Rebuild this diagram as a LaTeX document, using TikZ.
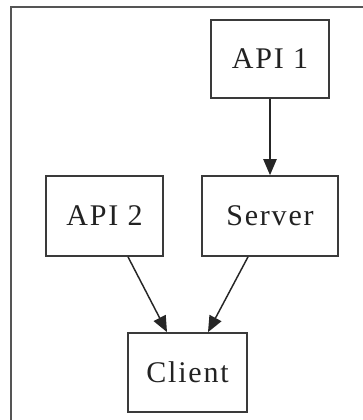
\documentclass[tikz,border=0pt]{standalone}
\usepackage{fontspec}
\setmainfont[LetterSpace=6]{Liberation Serif}
\usetikzlibrary{arrows.meta,calc}
\definecolor{boxline}{HTML}{3A3A3A}
\definecolor{frameline}{HTML}{555555}
\definecolor{txt}{HTML}{222222}
\tikzset{
  box/.style={draw=boxline, line width=1.3pt, fill=white, inner sep=0pt,
    text=txt, font=\fontsize{22.5}{25}\selectfont},
  link/.style={draw=black!85, line width=1.1pt,
    -{Triangle[length=12pt,width=10pt]}}
}
\begin{document}
\begin{tikzpicture}[x=0.75pt,y=-0.75pt]
\useasboundingbox (0,0) rectangle (363,420);
\fill[white] (0,0) rectangle (363,420);
\begin{scope}
\clip (0,0) rectangle (363,420);
\draw[frameline, line width=1.6pt] (11,7) rectangle (380,440);
\end{scope}
\node[box, minimum width=88.5pt, minimum height=58.5pt] (api1) at (270,59) {API 1};
\node[box, minimum width=102pt, minimum height=60pt] (server) at (270,216) {Server};
\node[box, minimum width=87.75pt, minimum height=60pt] (api2) at (104.5,216) {API 2};
\node[box, minimum width=89.25pt, minimum height=59.25pt] (client) at (187.5,372.5) {Client};
\draw[link] (api1.south) -- (server.north);
\draw[link] ($(api2.south)+(23.5,0)$) -- ($(client.north)+(-20.5,0)$);
\draw[link] ($(server.south)+(-22,0)$) -- ($(client.north)+(20.5,0)$);
\end{tikzpicture}
\end{document}
